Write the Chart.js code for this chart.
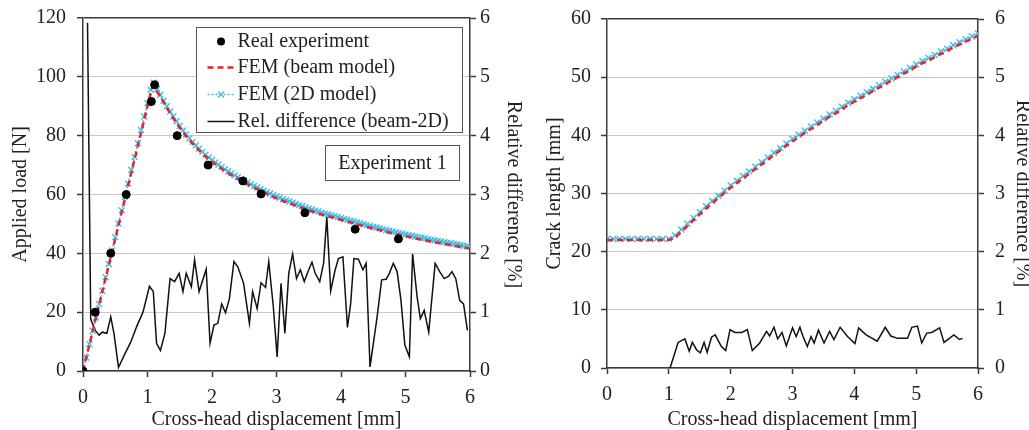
<!DOCTYPE html>
<html>
<head>
<meta charset="utf-8">
<script src="https://cdn.jsdelivr.net/npm/chart.js@4.4.1/dist/chart.umd.min.js"></script>
<style>
    html, body { margin: 0; padding: 0; background: #fff; overflow: hidden; }
    body { width: 1029px; height: 430px; position: relative; }
    canvas { position: absolute; top: 0; }
    #loadChart { left: 0; }
    #crackChart { left: 535px; }
</style>
</head>
<body>
<canvas id="loadChart" width="535" height="430"></canvas>
<canvas id="crackChart" width="500" height="430"></canvas>
<script>
// ---- data ----
const dispTicks = [0, 1, 2, 3, 4, 5, 6];
const loadTicks = [0, 20, 40, 60, 80, 100, 120];
const crackTicks = [0, 10, 20, 30, 40, 50, 60];
const relTicks = [0, 1, 2, 3, 4, 5, 6];

// Experiment 1 - real measurements
const expDisp = [0, 0.19, 0.43, 0.67, 1.06, 1.11, 1.46, 1.94, 2.48, 2.76, 3.44, 4.22, 4.89];
const expLoad = [0, 20, 40, 60, 91.6, 97.3, 80, 70, 64.6, 60.2, 53.8, 48.2, 44.9];

// FEM beam model - load
const beamDisp = [0, 0.1, 0.2, 0.3, 0.4, 0.5, 0.6, 0.7, 0.8, 0.9, 1.0, 1.08, 1.2, 1.3, 1.4, 1.5, 1.6, 1.7, 1.8, 1.9,
    2.0, 2.1, 2.2, 2.3, 2.4, 2.5, 2.6, 2.7, 2.8, 2.9, 3.0, 3.1, 3.2, 3.3, 3.4, 3.5, 3.6, 3.7, 3.8, 3.9,
    4.0, 4.1, 4.2, 4.3, 4.4, 4.5, 4.6, 4.7, 4.8, 4.9, 5.0, 5.1, 5.2, 5.3, 5.4, 5.5, 5.6, 5.7, 5.8, 5.9, 6.0];
const beamLoad = [0, 9.0, 18.0, 27.0, 36.0, 45.0, 54.0, 63.0, 72.0, 81.0, 90.0, 97.0, 93.3, 89.4, 85.9, 82.7, 79.8, 77.3, 75.0, 72.9,
    71.1, 69.5, 68.0, 66.6, 65.3, 64.1, 62.9, 61.8, 60.7, 59.7, 58.7, 57.8, 57.0, 56.2, 55.4, 54.6, 53.9, 53.2, 52.6, 52.0,
    51.4, 50.8, 50.2, 49.6, 49.0, 48.4, 47.9, 47.3, 46.8, 46.3, 45.8, 45.4, 44.9, 44.5, 44.0, 43.6, 43.2, 42.8, 42.4, 42.0, 41.6];

// FEM 2D model - load
const fem2dDisp = [0, 0.05, 0.1, 0.15, 0.2, 0.25, 0.3, 0.35, 0.4, 0.45, 0.5, 0.55, 0.6, 0.65, 0.7, 0.75, 0.8, 0.85, 0.9, 0.95,
    1.0, 1.05, 1.1, 1.15, 1.2, 1.25, 1.3, 1.35, 1.4, 1.45, 1.5, 1.55, 1.6, 1.65, 1.7, 1.75, 1.8, 1.85, 1.9, 1.95,
    2.0, 2.05, 2.1, 2.15, 2.2, 2.25, 2.3, 2.35, 2.4, 2.45, 2.5, 2.55, 2.6, 2.65, 2.7, 2.75, 2.8, 2.85, 2.9, 2.95,
    3.0, 3.05, 3.1, 3.15, 3.2, 3.25, 3.3, 3.35, 3.4, 3.45, 3.5, 3.55, 3.6, 3.65, 3.7, 3.75, 3.8, 3.85, 3.9, 3.95,
    4.0, 4.05, 4.1, 4.15, 4.2, 4.25, 4.3, 4.35, 4.4, 4.45, 4.5, 4.55, 4.6, 4.65, 4.7, 4.75, 4.8, 4.85, 4.9, 4.95,
    5.0, 5.05, 5.1, 5.15, 5.2, 5.25, 5.3, 5.35, 5.4, 5.45, 5.5, 5.55, 5.6, 5.65, 5.7, 5.75, 5.8, 5.85, 5.9, 5.95, 6.0];
const fem2dLoad = [0, 4.6, 9.1, 13.7, 18.2, 22.8, 27.3, 31.9, 36.4, 41.0, 45.5, 50.1, 54.6, 59.2, 63.7, 68.3, 72.8, 77.4, 81.9, 86.5,
    91.0, 95.6, 98.0, 95.9, 93.9, 91.9, 90.0, 88.2, 86.5, 84.9, 83.3, 81.8, 80.4, 79.1, 77.9, 76.7, 75.6, 74.5, 73.5, 72.6,
    71.7, 70.9, 70.1, 69.3, 68.6, 67.9, 67.2, 66.5, 65.9, 65.3, 64.7, 64.1, 63.5, 62.9, 62.4, 61.8, 61.3, 60.8, 60.3, 59.8,
    59.3, 58.9, 58.4, 58.0, 57.6, 57.2, 56.8, 56.4, 56.0, 55.6, 55.2, 54.9, 54.5, 54.2, 53.8, 53.5, 53.2, 52.9, 52.6, 52.3,
    52.0, 51.7, 51.4, 51.1, 50.8, 50.5, 50.2, 49.9, 49.6, 49.3, 49.0, 48.8, 48.5, 48.2, 47.9, 47.7, 47.4, 47.2, 46.9, 46.7,
    46.4, 46.2, 46.0, 45.7, 45.5, 45.3, 45.1, 44.8, 44.6, 44.4, 44.2, 44.0, 43.8, 43.6, 43.4, 43.2, 43.0, 42.8, 42.6, 42.4, 42.2];

// relative difference beam-2D (load), %
const relLoadDisp = [0.07, 0.12, 0.19, 0.25, 0.30, 0.37, 0.43, 0.48, 0.55, 0.64, 0.74, 0.83, 0.93, 1.03, 1.09, 1.14, 1.20, 1.27,
    1.35, 1.42, 1.49, 1.55, 1.60, 1.68, 1.73, 1.80, 1.91, 1.97, 2.03, 2.09, 2.15, 2.21, 2.27, 2.34, 2.40, 2.49, 2.58, 2.63,
    2.70, 2.76, 2.83, 2.88, 2.95, 3.01, 3.07, 3.13, 3.19, 3.25, 3.31, 3.37, 3.43, 3.50, 3.55, 3.60, 3.67, 3.73, 3.78, 3.84,
    3.91, 3.96, 4.03, 4.10, 4.15, 4.20, 4.27, 4.34, 4.39, 4.45, 4.56, 4.63, 4.70, 4.75, 4.81, 4.87, 4.93, 4.99, 5.06, 5.11,
    5.18, 5.23, 5.29, 5.36, 5.46, 5.53, 5.60, 5.67, 5.72, 5.78, 5.84, 5.90, 5.96];
const relLoad = [5.92, 0.88, 0.69, 0.61, 0.66, 0.64, 0.92, 0.64, 0.06, 0.27, 0.49, 0.75, 1.00, 1.44, 1.35, 0.47, 0.35, 0.64,
    1.57, 1.52, 1.66, 1.35, 1.66, 1.43, 1.89, 1.35, 1.73, 0.47, 0.78, 0.81, 1.14, 0.99, 1.23, 1.86, 1.77, 1.49, 0.81, 1.35,
    1.06, 1.50, 1.42, 1.86, 1.10, 0.24, 1.49, 0.64, 1.66, 1.99, 1.57, 1.72, 1.52, 1.72, 1.85, 1.66, 1.52, 1.83, 2.62, 1.36,
    1.72, 1.91, 1.94, 0.74, 1.15, 1.91, 1.90, 1.72, 1.83, 0.07, 0.92, 1.55, 1.56, 1.66, 1.83, 1.69, 1.20, 0.44, 0.24, 1.99,
    1.26, 0.89, 1.03, 0.66, 1.83, 1.69, 1.57, 1.61, 1.69, 1.57, 1.20, 1.14, 0.69];

// crack length, mm
const crackDisp = [0, 0.1, 0.2, 0.3, 0.4, 0.5, 0.6, 0.7, 0.8, 0.9, 1.0, 1.1, 1.2, 1.3, 1.4, 1.5, 1.6, 1.7, 1.8, 1.9,
    2.0, 2.1, 2.2, 2.3, 2.4, 2.5, 2.6, 2.7, 2.8, 2.9, 3.0, 3.1, 3.2, 3.3, 3.4, 3.5, 3.6, 3.7, 3.8, 3.9,
    4.0, 4.1, 4.2, 4.3, 4.4, 4.5, 4.6, 4.7, 4.8, 4.9, 5.0, 5.1, 5.2, 5.3, 5.4, 5.5, 5.6, 5.7, 5.8, 5.9, 6.0];
const crackBeam = [22.0, 22.0, 22.0, 22.0, 22.0, 22.0, 22.0, 22.0, 22.0, 22.0, 22.0, 22.4, 23.4, 24.4, 25.4, 26.4, 27.4, 28.3, 29.2, 30.1,
    31.0, 31.8, 32.6, 33.4, 34.2, 35.0, 35.8, 36.6, 37.4, 38.2, 39.0, 39.7, 40.4, 41.1, 41.8, 42.5, 43.2, 43.8, 44.5, 45.2,
    45.8, 46.4, 47.0, 47.6, 48.2, 48.8, 49.4, 50.0, 50.6, 51.2, 51.8, 52.4, 52.9, 53.4, 54.0, 54.5, 55.1, 55.6, 56.1, 56.6, 57.1];
const crack2d = [22.2, 22.2, 22.2, 22.2, 22.2, 22.2, 22.2, 22.2, 22.2, 22.2, 22.2, 22.8, 23.8, 24.8, 25.8, 26.8, 27.8, 28.7, 29.6, 30.5,
    31.4, 32.2, 33.0, 33.8, 34.6, 35.4, 36.2, 37.0, 37.8, 38.6, 39.4, 40.1, 40.8, 41.5, 42.2, 42.9, 43.6, 44.2, 44.9, 45.6,
    46.2, 46.8, 47.4, 48.0, 48.6, 49.2, 49.8, 50.4, 51.0, 51.6, 52.2, 52.8, 53.3, 53.8, 54.4, 54.9, 55.5, 56.0, 56.5, 57.0, 57.5];

// relative difference beam-2D (crack), %
const relCrackDisp = [1.02, 1.15, 1.26, 1.33, 1.38, 1.45, 1.51, 1.57, 1.62, 1.69, 1.75, 1.85, 1.92, 1.99, 2.07, 2.18, 2.27, 2.35,
    2.47, 2.58, 2.63, 2.70, 2.76, 2.83, 2.90, 3.00, 3.06, 3.12, 3.17, 3.24, 3.30, 3.35, 3.42, 3.51, 3.60, 3.67, 3.77, 3.89,
    4.01, 4.07, 4.19, 4.37, 4.50, 4.59, 4.70, 4.86, 4.93, 5.02, 5.09, 5.17, 5.25, 5.38, 5.45, 5.61, 5.70, 5.75];
const relCrack = [0.00, 0.44, 0.50, 0.29, 0.44, 0.31, 0.26, 0.44, 0.27, 0.53, 0.57, 0.37, 0.30, 0.66, 0.61, 0.61, 0.66, 0.30,
    0.43, 0.63, 0.55, 0.70, 0.50, 0.61, 0.38, 0.69, 0.54, 0.70, 0.54, 0.37, 0.54, 0.43, 0.65, 0.43, 0.63, 0.49, 0.70, 0.54,
    0.42, 0.69, 0.57, 0.46, 0.70, 0.55, 0.51, 0.51, 0.70, 0.72, 0.43, 0.60, 0.61, 0.69, 0.44, 0.57, 0.49, 0.51];

// ---- styling ----
const FONT = '"Liberation Serif", "DejaVu Serif", serif';
const AXIS_COLOR = '#3a3a3a';
const GRID_COLOR = '#c9c9c9';
const RED = '#e8232b';
const CYAN = '#40bde6';

Chart.defaults.font.family = FONT;
Chart.defaults.font.size = 20;
Chart.defaults.color = '#222';

function toPoints(xs, ys) {
    return xs.map((x, i) => ({ x: x, y: ys[i] }));
}

function setTicks(values) {
    return scale => { scale.ticks = values.map(v => ({ value: v })); };
}

function beamDataset(xs, ys) {
    return {
        label: 'FEM (beam model)', data: toPoints(xs, ys), yAxisID: 'y',
        borderColor: RED, borderWidth: 2.5, borderDash: [6, 4], pointRadius: 0, fill: false
    };
}

function fem2dDataset(xs, ys) {
    return {
        label: 'FEM (2D model)', data: toPoints(xs, ys), yAxisID: 'y',
        borderColor: CYAN, borderWidth: 1.5, borderDash: [2, 2],
        pointStyle: 'crossRot', pointRadius: 4.2, pointBorderColor: CYAN, pointBorderWidth: 1.4, fill: false
    };
}

function relDataset(xs, ys) {
    return {
        label: 'Rel. difference (beam-2D)', data: toPoints(xs, ys), yAxisID: 'y2',
        borderColor: '#111', borderWidth: 1.5, pointRadius: 0, fill: false
    };
}

// fixed axis box sizes so the plot area lands where it is in the figure
function fixWidth(w) {
    return s => { s.width = w; s.paddingTop = 0; s.paddingBottom = 0; };
}

function buildScales(o) {
    return {
        x: {
            type: 'linear', min: 0, max: 6,
            afterBuildTicks: setTicks(dispTicks),
            afterFit: s => { s.height = o.xHeight; s.paddingLeft = 0; s.paddingRight = 0; },
            grid: { drawOnChartArea: false, tickLength: 6, tickColor: AXIS_COLOR, tickWidth: 1.5 },
            border: { color: AXIS_COLOR, width: 1.5 },
            ticks: { padding: 9, autoSkip: false, maxRotation: 0 },
            title: { display: true, text: 'Cross-head displacement [mm]', padding: { top: 0, bottom: 0 }, font: { size: 20, lineHeight: 1 } }
        },
        y: {
            position: 'left', min: 0, max: o.yMax,
            afterBuildTicks: setTicks(o.yTicks),
            afterFit: fixWidth(o.leftWidth),
            grid: {
                color: ctx => (ctx.tick && ctx.tick.value === o.yMax) ? AXIS_COLOR : GRID_COLOR,
                lineWidth: ctx => (ctx.tick && ctx.tick.value === o.yMax) ? 1.5 : 1,
                tickLength: 6, tickColor: AXIS_COLOR, tickWidth: 1.5
            },
            border: { color: AXIS_COLOR, width: 1.5 },
            ticks: { padding: o.leftPad },
            title: { display: true, text: o.yTitle, padding: { top: o.leftTitlePad, bottom: 0 }, font: { size: 20, lineHeight: 1 } }
        },
        y2: {
            position: 'right', min: 0, max: 6,
            afterBuildTicks: setTicks(relTicks),
            afterFit: fixWidth(o.rightWidth),
            grid: { drawOnChartArea: false, tickLength: 6, tickColor: AXIS_COLOR, tickWidth: 1.5 },
            border: { color: AXIS_COLOR, width: 1.5 },
            ticks: { padding: o.rightPad },
            title: { display: true, text: 'Relative difference [%]', padding: { top: o.rightTitlePad, bottom: 0 }, font: { size: 20, lineHeight: 1 } }
        }
    };
}

// legend + "Experiment 1" label drawn inside the plot area
const insideLegend = {
    id: 'insideLegend',
    afterDraw(chart) {
        const ctx = chart.ctx;
        const a = chart.chartArea;
        const bx = a.left + 113.5, by = a.top + 9.5, bw = 266, bh = 105;
        ctx.save();
        ctx.fillStyle = '#fff';
        ctx.fillRect(bx, by, bw, bh);
        ctx.strokeStyle = '#555';
        ctx.lineWidth = 1;
        ctx.strokeRect(bx, by, bw, bh);

        const sx0 = bx + 11, sx1 = bx + 38, tx = bx + 41;
        const rows = [by + 14, by + 40, by + 67, by + 94];
        const names = ['Real experiment', 'FEM (beam model)', 'FEM (2D model)', 'Rel. difference (beam-2D)'];

        // symbols
        ctx.fillStyle = '#000';
        ctx.beginPath();
        ctx.arc((sx0 + sx1) / 2, rows[0], 4, 0, Math.PI * 2);
        ctx.fill();

        ctx.strokeStyle = RED; ctx.lineWidth = 2.5; ctx.setLineDash([6, 4]);
        ctx.beginPath(); ctx.moveTo(sx0, rows[1]); ctx.lineTo(sx1, rows[1]); ctx.stroke();

        ctx.strokeStyle = CYAN; ctx.lineWidth = 1.5; ctx.setLineDash([2, 2]);
        ctx.beginPath(); ctx.moveTo(sx0, rows[2]); ctx.lineTo(sx1, rows[2]); ctx.stroke();
        ctx.setLineDash([]);
        const mx = (sx0 + sx1) / 2;
        ctx.lineWidth = 1.4;
        ctx.beginPath();
        ctx.moveTo(mx - 3, rows[2] - 3); ctx.lineTo(mx + 3, rows[2] + 3);
        ctx.moveTo(mx + 3, rows[2] - 3); ctx.lineTo(mx - 3, rows[2] + 3);
        ctx.stroke();

        ctx.strokeStyle = '#111'; ctx.lineWidth = 1.5;
        ctx.beginPath(); ctx.moveTo(sx0, rows[3]); ctx.lineTo(sx1, rows[3]); ctx.stroke();

        ctx.fillStyle = '#222';
        ctx.font = '20px ' + FONT;
        ctx.textBaseline = 'middle';
        ctx.textAlign = 'left';
        names.forEach((n, i) => ctx.fillText(n, tx, rows[i]));

        // Experiment 1 box
        const ex = a.left + 242.5, ey = a.top + 127.5, ew = 134, eh = 35;
        ctx.strokeStyle = '#555'; ctx.lineWidth = 1;
        ctx.strokeRect(ex, ey, ew, eh);
        ctx.textAlign = 'center';
        ctx.fillText('Experiment 1', ex + ew / 2, ey + eh / 2 + 1);
        ctx.restore();
    }
};

function createLoadChart() {
    const ctx = document.getElementById('loadChart').getContext('2d');
    return new Chart(ctx, {
        type: 'line',
        data: {
            datasets: [
                {
                    label: 'Real experiment', data: toPoints(expDisp, expLoad), yAxisID: 'y',
                    showLine: false, pointRadius: 4, pointBackgroundColor: '#000', pointBorderColor: '#000'
                },
                beamDataset(beamDisp, beamLoad),
                fem2dDataset(fem2dDisp, fem2dLoad),
                relDataset(relLoadDisp, relLoad)
            ]
        },
        options: {
            responsive: false,
            animation: false,
            layout: { padding: { top: 18, left: 0, right: 0, bottom: 0 } },
            plugins: { legend: { display: false }, tooltip: { enabled: false } },
            scales: buildScales({
                xHeight: 59, yMax: 120, yTicks: loadTicks, yTitle: 'Applied load [N]',
                leftWidth: 83, leftPad: 11, leftTitlePad: 11,
                rightWidth: 65, rightPad: 4, rightTitlePad: 12
            })
        },
        plugins: [insideLegend]
    });
}

function createCrackChart() {
    const ctx = document.getElementById('crackChart').getContext('2d');
    return new Chart(ctx, {
        type: 'line',
        data: {
            datasets: [
                beamDataset(crackDisp, crackBeam),
                fem2dDataset(crackDisp, crack2d),
                relDataset(relCrackDisp, relCrack)
            ]
        },
        options: {
            responsive: false,
            animation: false,
            layout: { padding: { top: 19, left: 0, right: 0, bottom: 0 } },
            plugins: { legend: { display: false }, tooltip: { enabled: false } },
            scales: buildScales({
                xHeight: 62, yMax: 60, yTicks: crackTicks, yTitle: 'Crack length [mm]',
                leftWidth: 72, leftPad: 10, leftTitlePad: 10,
                rightWidth: 57, rightPad: 11, rightTitlePad: 3
            })
        }
    });
}

createLoadChart();
createCrackChart();
</script>
</body>
</html>
